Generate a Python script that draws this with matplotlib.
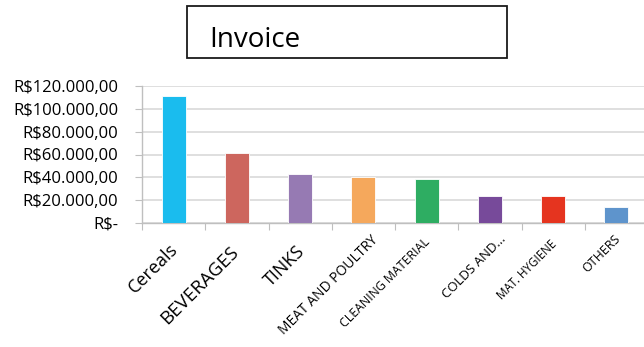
import matplotlib
matplotlib.use("Agg")
import matplotlib.pyplot as plt
from matplotlib.patches import Rectangle
from matplotlib.ticker import FuncFormatter, FixedLocator

plt.rcParams['font.family'] = ['Open Sans', 'DejaVu Sans']

categories = ["Cereals", "BEVERAGES", "TINKS", "MEAT AND POULTRY",
              "CLEANING MATERIAL", "COLDS AND...", "MAT. HYGIENE", "OTHERS"]
values = [111000, 61500, 43200, 40200, 38600, 24000, 23400, 14300]
colors = ["#1ABCEE", "#CD665E", "#967AB3", "#F5A85C",
          "#2EAD62", "#774A9A", "#E5341F", "#5E94CC"]
label_sizes = [13, 13.5, 13, 10, 8.8, 9.5, 8.3, 9]
# per-label nudges of the rotated category names, in pixels (right, up)
label_shift = [(2, 2), (0, 0), (3, 0), (12, 10), (0, 7), (13, 10), (1, 5), (1, 10)]
y_ticks = [0, 20000, 40000, 60000, 80000, 100000, 120000]

W, H = 644, 347
fig = plt.figure(figsize=(W / 100, H / 100), dpi=100)
ax = fig.add_axes([142 / W, (H - 223) / H, (648 - 142) / W, (223 - 86) / H])

x = list(range(len(categories)))
ax.bar(x, values, width=0.38, color=colors, edgecolor="white",
       linewidth=0.6, zorder=3)

ax.set_xlim(-0.5, len(categories) - 0.5)
ax.set_ylim(0, 120000)


def brl(v, pos=None):
    if v == 0:
        return "R$-"
    s = f"{v:,.2f}"
    s = s.replace(",", "X").replace(".", ",").replace("X", ".")
    return "R$" + s


ax.yaxis.set_major_locator(FixedLocator(y_ticks))
ax.yaxis.set_major_formatter(FuncFormatter(brl))
ax.tick_params(axis="y", length=5, width=0.8, color="#bfbfbf",
               labelsize=12, pad=12, labelcolor="#000000")
ax.grid(axis="y", color="#d9d9d9", linewidth=1.2, zorder=0)

# category boundaries carry the x tick marks
ax.set_xticks([i + 0.5 for i in range(len(categories) - 1)] + [-0.5])
ax.set_xticklabels([])
ax.tick_params(axis="x", length=5, width=0.8, color="#bfbfbf")

px = 72 / 100  # points per pixel
for i, (lab, fs, (dx, dy)) in enumerate(zip(categories, label_sizes, label_shift)):
    ax.annotate(lab, xy=(i, 0), xycoords=("data", "axes fraction"),
                xytext=(4 + dx * px, -14 + dy * px), textcoords="offset points",
                rotation=45, ha="right", va="top",
                rotation_mode="default", fontsize=fs, color="#000000")

for side in ["top", "right"]:
    ax.spines[side].set_visible(False)
ax.spines["left"].set_color("#bfbfbf")
ax.spines["bottom"].set_color("#bfbfbf")
ax.spines["left"].set_linewidth(1.0)
ax.spines["bottom"].set_linewidth(1.0)

# title box
fig.patches.append(Rectangle((187 / W, (H - 58) / H), (507 - 187) / W,
                             (58 - 6) / H, transform=fig.transFigure,
                             fill=False, edgecolor="#1a1a1a", linewidth=1.3))
fig.text(209 / W, (H - 47) / H, "Invoice", fontsize=20, ha="left",
         va="baseline", color="#000000")

fig.savefig("out.png", dpi=100, facecolor="white")
